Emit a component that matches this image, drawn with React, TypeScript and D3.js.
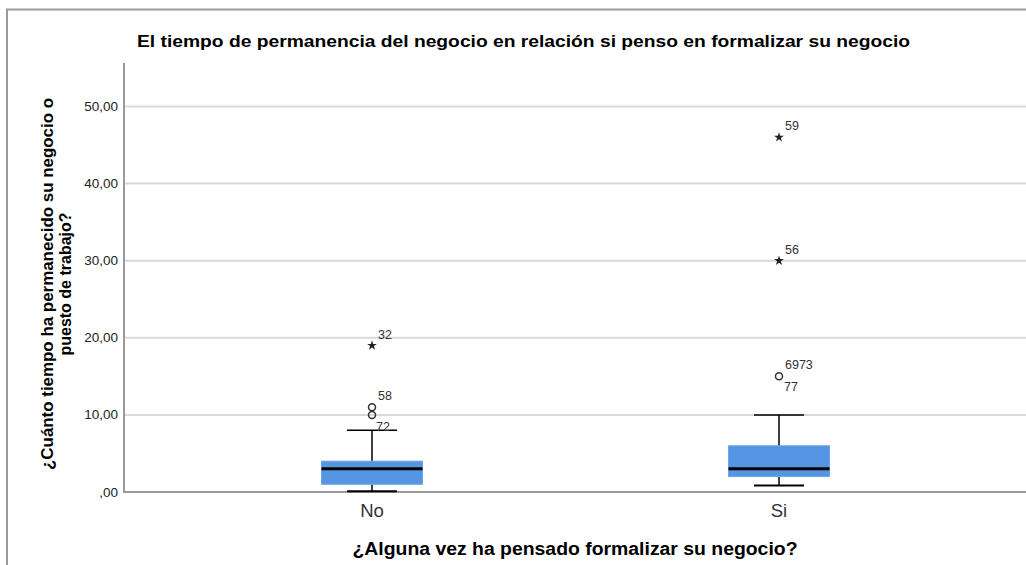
import React from "react";
import * as d3 from "d3";

const title = "El tiempo de permanencia del negocio en relación si penso en formalizar su negocio";
const xTitle = "¿Alguna vez ha pensado formalizar su negocio?";
const yTitleLines = ["¿Cuánto tiempo ha permanecido su negocio o", "puesto de trabajo?"];
const categories = ["No", "Si"];
const q1 = [1, 2];
const medians = [3, 3];
const q3 = [4, 6];
const whiskerLow = [0.1, 0.85];
const whiskerHigh = [8, 10];
const yTicks = [0, 10, 20, 30, 40, 50];
// outliers: category, value, kind, label
const outlierCat = ["No", "No", "No", "Si", "Si", "Si"];
const outlierVal = [19, 11, 10, 46, 30, 15];
const outlierKind = ["star", "circle", "circle", "star", "star", "circle"];
const outlierLabel = ["32", "58", "72", "59", "56", "6973"];
const extraLabelCat = ["Si"];
const extraLabelVal = [15];
const extraLabelText = ["77"];

const W = 1026, H = 565;
const font = "'Liberation Sans', Arial, sans-serif";

export default function App() {
  const y = d3.scaleLinear().domain([0, 50]).range([492, 106.5]);
  const x = d3.scaleBand().domain(categories).range([168.5, 982.5]).padding(0);
  const cx = (c: string) => (x(c) as number) + x.bandwidth() / 2;
  const boxW = 101, capW = 50;
  const fmt = (v: number) => (v === 0 ? ",00" : d3.format(".2f")(v).replace(".", ","));
  const star = d3.symbol().type(d3.symbolStar).size(30)();

  return (
    <svg width={W} height={H} style={{ position: "absolute", left: 0, top: 0, background: "#fff" }} fontFamily={font}>
      <rect x={7} y={9.5} width={W + 10} height={H + 10} fill="#fff" stroke="#999" strokeWidth={2} />
      <text x={523.5} y={47} textAnchor="middle" fontWeight="bold" fontSize={17} fill="#000" textLength={773} lengthAdjust="spacingAndGlyphs">{title}</text>
      {yTicks.map((t) => (
        <g key={t}>
          {t > 0 && <line x1={124} x2={W} y1={y(t)} y2={y(t)} stroke="#d9d9d9" strokeWidth={2} />}
          <text x={118} y={y(t) + 4.5} textAnchor="end" fontSize={13.5} fill="#222">{fmt(t)}</text>
        </g>
      ))}
      <line x1={124} x2={124} y1={63} y2={492} stroke="#999" strokeWidth={2} />
      <line x1={123} x2={W} y1={492} y2={492} stroke="#999" strokeWidth={2} />
      {categories.map((c, i) => {
        const m = cx(c);
        return (
          <g key={c}>
            <line x1={m} x2={m} y1={y(whiskerHigh[i])} y2={y(q3[i])} stroke="#000" strokeWidth={1.5} />
            <line x1={m} x2={m} y1={y(q1[i])} y2={y(whiskerLow[i])} stroke="#000" strokeWidth={1.5} />
            <line x1={m - capW / 2} x2={m + capW / 2} y1={y(whiskerHigh[i])} y2={y(whiskerHigh[i])} stroke="#000" strokeWidth={1.5} />
            <line x1={m - capW / 2} x2={m + capW / 2} y1={y(whiskerLow[i])} y2={y(whiskerLow[i])} stroke="#000" strokeWidth={2} />
            <rect x={m - boxW / 2} y={y(q3[i])} width={boxW} height={y(q1[i]) - y(q3[i])} fill="#5596e3" stroke="#6fa6e8" strokeWidth={1} />
            <line x1={m - boxW / 2} x2={m + boxW / 2} y1={y(medians[i])} y2={y(medians[i])} stroke="#000" strokeWidth={3} />
            <text x={m} y={517} textAnchor="middle" fontSize={18.5} fill="#333">{c}</text>
          </g>
        );
      })}
      {outlierVal.map((v, i) => {
        const m = cx(outlierCat[i]);
        const py = y(v);
        return (
          <g key={i}>
            {outlierKind[i] === "star" ? (
              <path d={star as string} transform={`translate(${m},${py})`} fill="#222" />
            ) : (
              <circle cx={m} cy={py} r={3.5} fill="none" stroke="#333" strokeWidth={1.5} />
            )}
            {outlierLabel[i] === "72" ? (
              <text x={m + 4} y={py + 16} fontSize={12.5} fill="#333">{outlierLabel[i]}</text>
            ) : (
              <text x={m + 6} y={py - 7} fontSize={12.5} fill="#333">{outlierLabel[i]}</text>
            )}
          </g>
        );
      })}
      {extraLabelVal.map((v, i) => (
        <text key={i} x={cx(extraLabelCat[i]) + 5} y={y(v) + 15} fontSize={12.5} fill="#333">{extraLabelText[i]}</text>
      ))}
      <text x={575} y={555} textAnchor="middle" fontWeight="bold" fontSize={17.5} fill="#000" textLength={445} lengthAdjust="spacingAndGlyphs">{xTitle}</text>
      <g transform="translate(0,284) rotate(-90)">
        <text x={0} y={53} textAnchor="middle" fontWeight="bold" fontSize={16} fill="#000" textLength={372} lengthAdjust="spacingAndGlyphs">{yTitleLines[0]}</text>
        <text x={0} y={71} textAnchor="middle" fontWeight="bold" fontSize={16} fill="#000">{yTitleLines[1]}</text>
      </g>
    </svg>
  );
}
